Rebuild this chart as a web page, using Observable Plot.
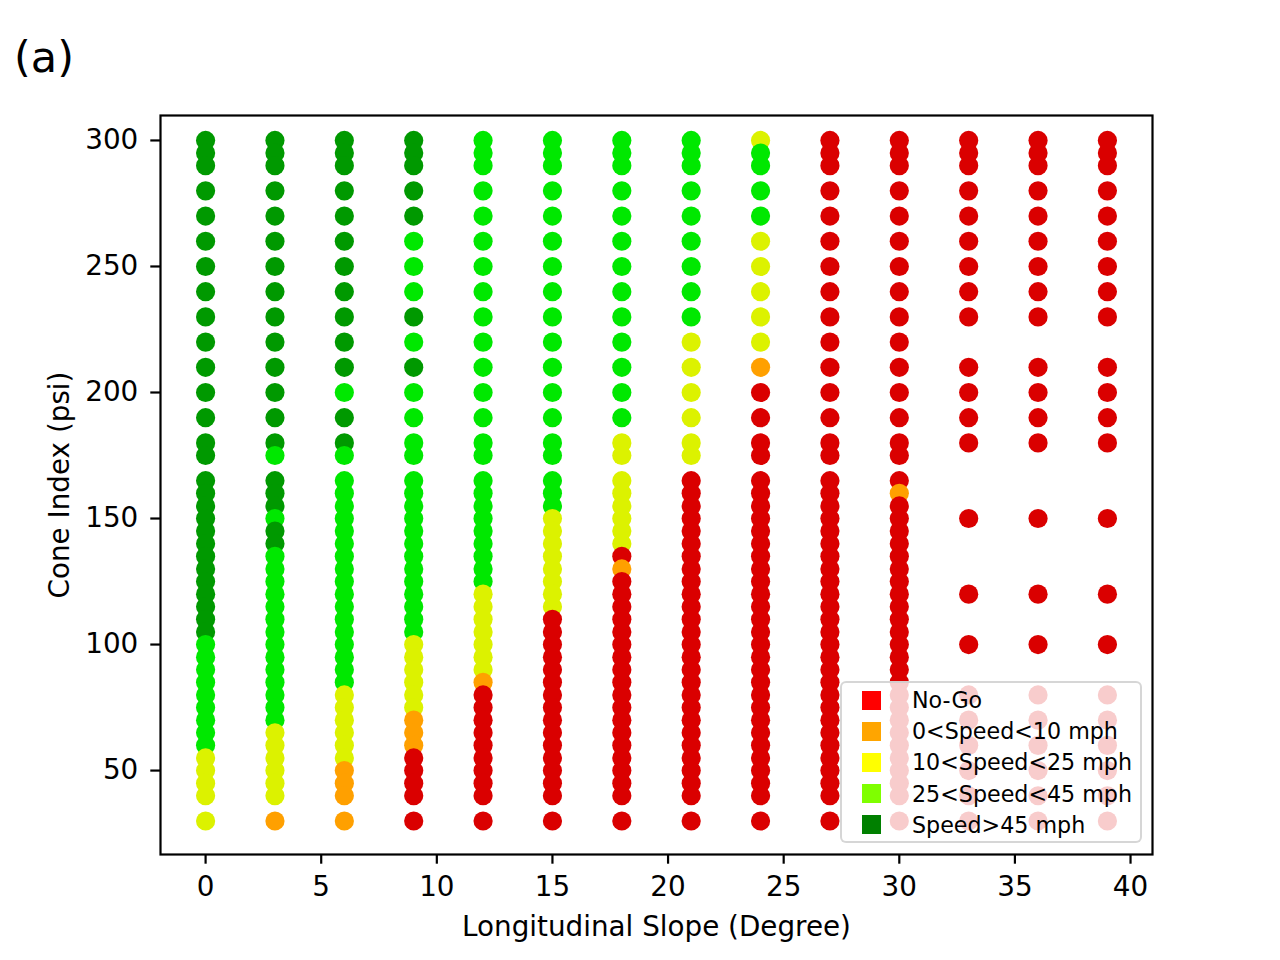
<!DOCTYPE html>
<html>
<head>
<meta charset="utf-8">
<script src="https://cdn.jsdelivr.net/npm/d3@7"></script>
<script src="https://cdn.jsdelivr.net/npm/@observablehq/plot@0.6"></script>
<style>
  html, body { margin: 0; padding: 0; background: #fff; }
  body { font-family: "DejaVu Sans", sans-serif; }
  #wrap { position: relative; width: 1280px; height: 960px; }
  #wrap svg { display: block; }
  #panel { position: absolute; left: 14px; top: 36px; font-size: 43px; line-height: 1; color: #000; }
  #legend { position: absolute; left: 840px; top: 681px; width: 302px; height: 162px; box-sizing: border-box;
            border: 2px solid rgba(204,204,204,0.8); border-radius: 6px; background: rgba(255,255,255,0.8);
            font-size: 22.2px; color: #000; }
  .lrow { position: absolute; left: 0; height: 30px; display: flex; align-items: center; white-space: nowrap; }
  .lsw { position: absolute; left: 20px; width: 19px; height: 19px; }
  .ltx { position: absolute; left: 70px; line-height: 30px; }
</style>
</head>
<body>
<div id="wrap">
  <div id="chart"></div>
  <div id="panel">(a)</div>
  <div id="legend"></div>
</div>
<script>
// ---- data ----
const slopes = [0, 3, 6, 9, 12, 15, 18, 21, 24, 27, 30, 33, 36, 39];

const coneLevels = [30, 40, 45, 50, 55, 60, 65, 70, 75, 80, 85, 90, 95, 100, 105, 110, 115, 120, 125, 130,
  135, 140, 145, 150, 155, 160, 165, 175, 180, 190, 200, 210, 220, 230, 240, 250, 260, 270, 280, 290, 295, 300];

const sparseLevels = [30, 40, 50, 60, 70, 80, 100, 120, 150, 180, 190, 200, 210, 230, 240, 250, 260, 270, 280, 290, 295, 300];

const categories = ["No-Go", "0<Speed<10 mph", "10<Speed<25 mph", "25<Speed<45 mph", "Speed>45 mph"];
const codeKeys = ["R", "O", "Y", "G", "D"];
const dotColors = ["#da0000", "#ffa000", "#dcf200", "#00e800", "#009900"];
const legendColors = ["#ff0000", "#ffa500", "#ffff00", "#7fff00", "#008000"];

// category code per cone level (ascending), one string per slope column
const columnCodes = [
  "Y|YYYY|GGGGGGGGG|DDDDDDDDDDDDD|D|DDDDDDDDDDD|DDD",   // 0
  "O|YYYY|YYGGGGGGG|GGGGGGGDDGDDD|G|DDDDDDDDDDD|DDD",   // 3
  "O|OOOY|YYYYYGGGG|GGGGGGGGGGGGG|G|DDGDDDDDDDD|DDD",   // 6
  "R|RRRR|OOOYYYYYY|GGGGGGGGGGGGG|G|GGGDGDGGGDD|DDD",   // 9
  "R|RRRR|RRRRROYYY|YYYYGGGGGGGGG|G|GGGGGGGGGGG|GGG",   // 12
  "R|RRRR|RRRRRRRRR|RRYYYYYYYYGGG|G|GGGGGGGGGGG|GGG",   // 15
  "R|RRRR|RRRRRRRRR|RRRRRORYYYYYY|Y|YGGGGGGGGGG|GGG",   // 18
  "R|RRRR|RRRRRRRRR|RRRRRRRRRRRRR|Y|YYYYYGGGGGG|GGG",   // 21
  "R|RRRR|RRRRRRRRR|RRRRRRRRRRRRR|R|RRROYYYYYGG|GGY",   // 24
  "R|RRRR|RRRRRRRRR|RRRRRRRRRRRRR|R|RRRRRRRRRRR|RRR",   // 27
  "R|RRRR|RRRRRRRRR|RRRRRRRRRRROR|R|RRRRRRRRRRR|RRR",   // 30
  "RRRRRRRRRRRRRRRRRRRRRR",                             // 33
  "RRRRRRRRRRRRRRRRRRRRRR",                             // 36
  "RRRRRRRRRRRRRRRRRRRRRR"                              // 39
];

const xTicks = [0, 5, 10, 15, 20, 25, 30, 35, 40];
const yTicks = [50, 100, 150, 200, 250, 300];

// ---- build rows ----
const rows = [];
slopes.forEach((s, i) => {
  const codes = columnCodes[i].replace(/\|/g, "");
  const levels = s >= 33 ? sparseLevels : coneLevels;
  if (codes.length !== levels.length) throw new Error("length mismatch at slope " + s + ": " + codes.length);
  // draw from top to bottom so lower points sit on top
  for (let k = levels.length - 1; k >= 0; k--) {
    rows.push({ slope: s, cone: levels[k], cat: categories[codeKeys.indexOf(codes[k])] });
  }
});

const font = "DejaVu Sans";
const chart = Plot.plot({
  width: 1280,
  height: 960,
  marginLeft: 160,
  marginRight: 128,
  marginTop: 115,
  marginBottom: 106,
  style: { fontFamily: font, fontSize: "27.8px", background: "white", color: "black", overflow: "visible" },
  x: { domain: [-1.95, 40.95], nice: false },
  y: { domain: [16.7, 309.9], nice: false },
  color: { domain: categories, range: dotColors, type: "ordinal" },
  marks: [
    Plot.dot(rows, { x: "slope", y: "cone", r: 9.6, fill: "cat", stroke: "none", fillOpacity: 1 }),
    Plot.axisX({ ticks: xTicks, tickSize: 9.7, tickPadding: 12, strokeWidth: 2.2, fontSize: 27.8, label: null, tickFormat: d => String(d) }),
    Plot.axisY({ ticks: yTicks, tickSize: 9.7, tickPadding: 12.5, strokeWidth: 2.2, fontSize: 27.8, label: null, tickFormat: d => String(d) }),
    Plot.frame({ stroke: "black", strokeWidth: 2.2 }),
    Plot.text(["Longitudinal Slope (Degree)"], { frameAnchor: "bottom", dy: 62, lineAnchor: "top", fontSize: 27.8, fill: "black", text: d => d }),
    Plot.text(["Cone Index (psi)"], { frameAnchor: "left", dx: -111, rotate: -90, textAnchor: "middle", lineAnchor: "top", fontSize: 27.8, fill: "black", text: d => d })
  ]
});
document.getElementById("chart").appendChild(chart);

// ---- legend ----
const legend = document.getElementById("legend");
categories.forEach((c, i) => {
  const row = document.createElement("div");
  row.className = "lrow";
  row.style.top = (19 + 31.2 * i - 15 - 2) + "px";
  const sw = document.createElement("span");
  sw.className = "lsw";
  sw.style.background = legendColors[i];
  const tx = document.createElement("span");
  tx.className = "ltx";
  tx.textContent = c;
  row.appendChild(sw);
  row.appendChild(tx);
  legend.appendChild(row);
});
</script>
</body>
</html>
